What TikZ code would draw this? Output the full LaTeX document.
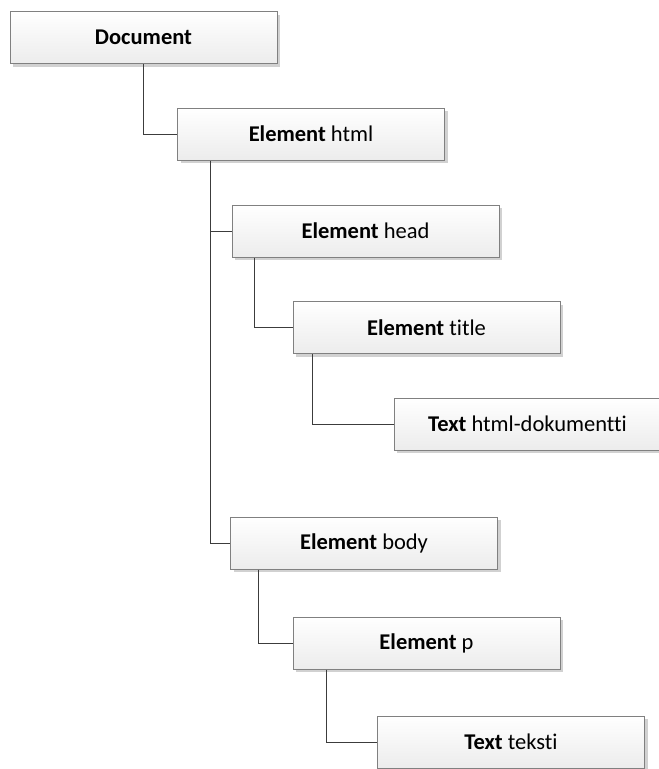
\documentclass[tikz,border=0pt]{standalone}
\usepackage{fontspec}
\setmainfont[Ligatures=NoCommon]{Carlito}
\usetikzlibrary{shadows}
\definecolor{boxline}{RGB}{128,128,128}
\definecolor{boxlow}{RGB}{236,236,236}
\definecolor{linkline}{RGB}{60,60,60}
\tikzset{
  elbox/.style={draw=boxline, line width=1pt, top color=white, bottom color=boxlow,
    minimum width=267pt, minimum height=52pt, inner sep=0pt,
    font=\fontsize{22.5}{26}\selectfont,
    drop shadow={shadow xshift=3pt, shadow yshift=-3pt, fill=black!18, opacity=1}},
  link/.style={draw=linkline, line width=1pt}
}
\begin{document}
\begin{tikzpicture}[x=1pt,y=-1pt]
      \useasboundingbox (0,0) rectangle (659,769);
      % boxes
      \node (doc)   [elbox] at (143.5,37.5) {\textbf{Document}};
      \node (html)  [elbox] at (311,134)    {\textbf{Element} html};
      \node (head)  [elbox] at (365.5,231)  {\textbf{Element} head};
      \node (title) [elbox] at (426.5,327.5) {\textbf{Element} title};
      \node (txta)  [elbox] at (527.5,424)  {\textbf{Text} html-dokumentti};
      \node (body)  [elbox] at (364,543)    {\textbf{Element} body};
      \node (para)  [elbox] at (426.5,643)  {\textbf{Element} p};
      \node (txtb)  [elbox] at (511,742)    {\textbf{Text} teksti};
      % links
      \draw [link] (doc.south) |- (html.west);
      \draw [link] ([xshift=33pt]html.south west) |- (head.west);
      \draw [link] ([xshift=33pt]html.south west) |- (body.west);
      \draw [link] ([xshift=23pt]head.south west) |- (title.west);
      \draw [link] ([xshift=20pt]title.south west) |- (txta.west);
      \draw [link] ([xshift=28pt]body.south west) |- (para.west);
      \draw [link] ([xshift=34pt]para.south west) |- (txtb.west);
    \end{tikzpicture}
\end{document}
